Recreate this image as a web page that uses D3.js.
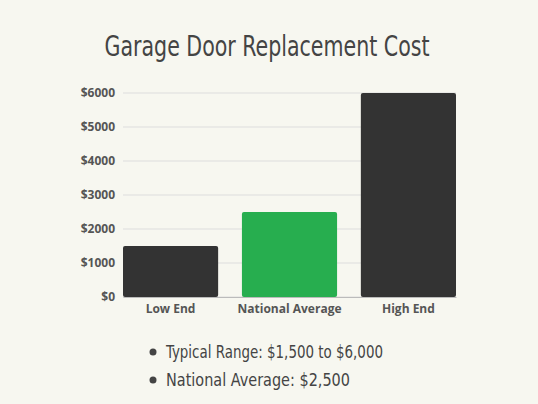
<!DOCTYPE html><html><head><meta charset="utf-8">
<script src="https://cdn.jsdelivr.net/npm/d3@7"></script>
<style>body{margin:0;background:#f7f7f0}</style></head><body><svg id="c" width="538" height="404"></svg>
<script>
const categories=["Low End","National Average","High End"];
const values=[1500,2500,6000];
const colors=["#333333","#27ae4f","#333333"];
const ticks=[0,1000,2000,3000,4000,5000,6000];
const bullets=["Typical Range: $1,500 to $6,000","National Average: $2,500"];
const bulletW=[217,184];
const cond="'DejaVu Sans Condensed','DejaVu Sans',sans-serif";
const svg=d3.select("#c");
svg.append("rect").attr("width",538).attr("height",404).attr("fill","#f7f7f0");
svg.append("text").attr("x",267).attr("y",56).attr("text-anchor","middle")
 .attr("font-family",cond).attr("font-stretch","condensed").attr("font-size",29)
 .attr("textLength",325).attr("lengthAdjust","spacingAndGlyphs")
 .attr("fill","#444").text("Garage Door Replacement Cost");
const x=d3.scaleBand().domain(categories).range([123,456]).paddingInner(0.2).paddingOuter(0);
const y=d3.scaleLinear().domain([0,6000]).range([297,93]);
const g=svg.append("g");
g.selectAll(".grid").data(ticks).join("line").attr("x1",123).attr("x2",456)
 .attr("y1",d=>y(d)).attr("y2",d=>y(d)).attr("stroke","#ddd");
g.selectAll(".bar").data(values).join("rect").attr("x",(d,i)=>x(categories[i])).attr("width",x.bandwidth())
 .attr("y",d=>y(d)).attr("height",d=>y(0)-y(d)).attr("rx",2).attr("fill",(d,i)=>colors[i]);
const ya=svg.append("g").attr("transform","translate(115,0)").call(d3.axisLeft(y).tickValues(ticks).tickFormat(d=>"$"+d).tickSize(0).tickPadding(0));
ya.select(".domain").remove();
const xa=svg.append("g").attr("transform","translate(0,297)").call(d3.axisBottom(x).tickSize(0).tickPadding(7));
xa.select(".domain").attr("stroke","#bbb");
svg.selectAll(".tick text").attr("font-family","'Open Sans',sans-serif").attr("font-weight","bold").attr("font-size",12).attr("fill","#555");
bullets.forEach((b,i)=>{
 svg.append("circle").attr("cx",153).attr("cy",352+i*28).attr("r",3.5).attr("fill","#444");
 svg.append("text").attr("x",166).attr("y",358+i*28).attr("font-family",cond).attr("font-stretch","condensed")
  .attr("font-size",18).attr("textLength",bulletW[i]).attr("lengthAdjust","spacingAndGlyphs").attr("fill","#444").text(b);
});
</script></body></html>
